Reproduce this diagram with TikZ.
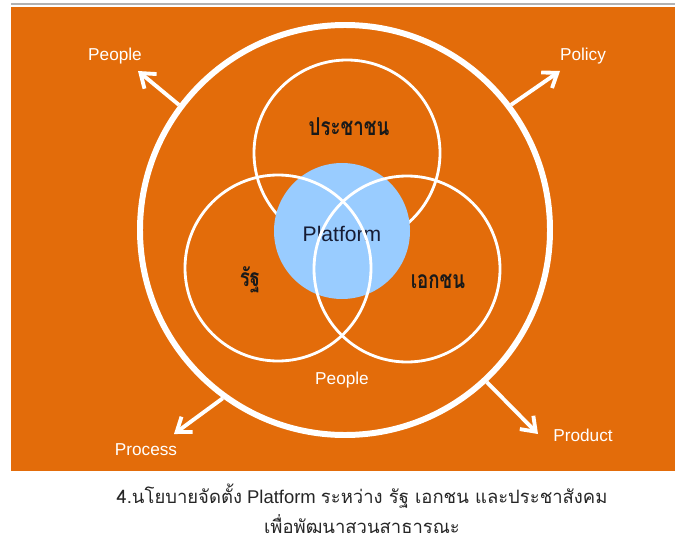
\documentclass[tikz,border=0pt]{standalone}
\usepackage{fontspec}
\setmainfont{Liberation Sans}
\newfontfamily\thaifont[Script=Thai]{Loma}
\newfontfamily\thainarrow[Script=Thai, FakeStretch=0.76]{Loma}
\usetikzlibrary{arrows.meta}

\definecolor{slideorange}{RGB}{227,108,10}
\definecolor{platformblue}{RGB}{153,204,255}
\definecolor{platformink}{RGB}{22,28,52}

\tikzset{
    outerring/.style={circle, draw=white, line width=3.4pt, minimum size=82mm, inner sep=0pt},
    groupcircle/.style={circle, draw=white, line width=1.6pt, minimum size=37.2mm, inner sep=0pt},
    platformdisc/.style={circle, fill=platformblue, minimum size=27.2mm, inner sep=0pt},
    outlabel/.style={text=white, font=\fontsize{9.8}{11}\selectfont},
    grouplabel/.style={text=black!90, font=\thainarrow\bfseries\fontsize{14}{16}\selectfont},
    flow/.style={draw=white, line width=2.2pt, -{Straight Barb[length=2.6mm, width=3.8mm]}},
}

\begin{document}
\begin{tikzpicture}[x=0.2mm, y=-0.2mm]
    \useasboundingbox (0,0) rectangle (675,542);

    % Slide background and the grey rule on top of it
    \fill[slideorange] (11,7) rectangle (675,471);
    \draw[gray!60, line width=1pt] (11,4) -- (675,4);

    % Big ring, then the top circle which sits under the blue disc
    \node[outerring] (ring) at (345,230) {};
    \node[groupcircle] (citizen) at (347,153) {};
    \node[platformdisc] (platform) at (342,231) {};
    \node[text=platformink, font=\fontsize{12}{14}\selectfont] (platformlabel) at (342,234) {Platform};

    % Left and right circles are drawn over the disc
    \node[groupcircle] (state) at (278,268) {};
    \node[groupcircle] (private) at (407,269) {};

    % Names of the three groups
    \node[grouplabel] (citizenlabel) at (349,127) {ประชาชน};
    \node[grouplabel] (statelabel) at (250,280) {รัฐ};
    \node[grouplabel] (privatelabel) at (438,281) {เอกชน};
    \node[outlabel] (centrepeople) at (342,380) {People};

    % Arrows leaving the ring
    \coordinate (peopletip) at (138,71);
    \coordinate (policytip) at (560,71);
    \coordinate (processtip) at (174,434);
    \coordinate (producttip) at (538,434);
    \foreach \ang/\tip in {143/peopletip, 37/policytip, 234/processtip, 313/producttip}
        \draw[flow] (ring.\ang) -- (\tip);

    \node[outlabel] (peoplelabel) at (115,56) {People};
    \node[outlabel] (policylabel) at (583,56) {Policy};
    \node[outlabel] (processlabel) at (146,450) {Process};
    \node[outlabel] (productlabel) at (583,435) {Product};

    % Caption under the slide
    \node[align=center, text=black!85, font=\fontsize{10.5}{17}\selectfont] (caption) at (362,509)
        {{\thaifont 4.นโยบายจัดตั้ง} Platform {\thaifont ระหว่าง รัฐ เอกชน และประชาสังคม}\\
         {\thaifont เพื่อพัฒนาสวนสาธารณะ}};
\end{tikzpicture}
\end{document}
